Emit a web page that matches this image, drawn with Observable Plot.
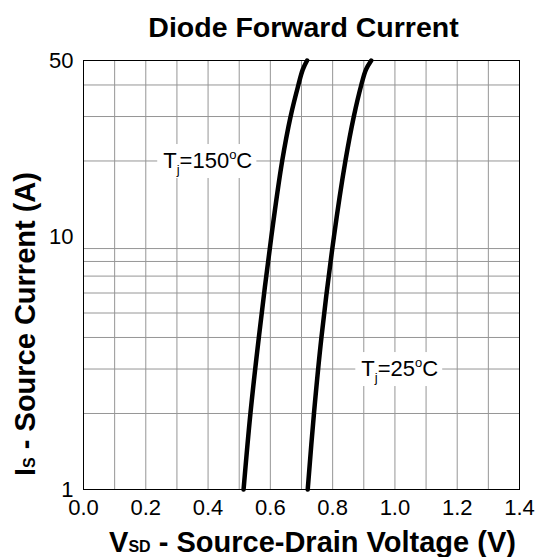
<!DOCTYPE html>
<html><head><meta charset="utf-8">
<script src="https://cdn.jsdelivr.net/npm/d3@7"></script>
<script src="https://cdn.jsdelivr.net/npm/@observablehq/plot@0.6"></script>
<style>html,body{margin:0;padding:0;background:#fff}svg{display:block}</style>
</head><body><div id="chart"></div>
<script>
// ---- data ----
const titleText = "Diode Forward Current";
const xLabelMain = "V";
const xLabelSub = "SD";
const xLabelRest = " - Source-Drain Voltage (V)";
const yLabelMain = "I";
const yLabelSub = "S";
const yLabelRest = " - Source Current (A)";
const xTicks = [0, 0.2, 0.4, 0.6, 0.8, 1.0, 1.2, 1.4];
const yTicks = [1, 10, 50];
const xGrid = [0.1, 0.2, 0.3, 0.4, 0.5, 0.6, 0.7, 0.8, 0.9, 1.0, 1.1, 1.2, 1.3];
const yGrid = [2, 3, 4, 5, 6, 7, 8, 9, 20, 30, 40];
const v150 = [0.514, 0.536, 0.563, 0.603, 0.638, 0.665, 0.690, 0.704, 0.718];
const i150 = [1, 2, 4, 10, 20, 30, 40, 46, 50];
const v25 = [0.720, 0.740, 0.764, 0.804, 0.841, 0.868, 0.892, 0.907, 0.924];
const i25 = [1, 2, 4, 10, 20, 30, 40, 46, 50];
const labelTemps = ["150", "25"];
const labelV = [0.256, 0.892];
const labelI = [20, 3];

// ---- tables ----
const curves = [
  ...v150.map((v, k) => ({series: "150", v, i: i150[k]})),
  ...v25.map((v, k) => ({series: "25", v, i: i25[k]}))
];
const labels = labelTemps.map((t, k) => ({t, v: labelV[k], i: labelI[k]}));

const FONT = "'Liberation Sans', Arial, Helvetica, sans-serif";

const plot = Plot.plot({
  width: 536,
  height: 557,
  marginLeft: 83,
  marginRight: 17,
  marginTop: 60,
  marginBottom: 68,
  style: {fontFamily: FONT, color: "black", background: "white", overflow: "visible"},
  x: {type: "linear", domain: [0, 1.4]},
  y: {type: "log", domain: [1, 50]},
  marks: [
    Plot.ruleX(xGrid, {stroke: "#969696", strokeWidth: 1}),
    Plot.ruleY(yGrid, {stroke: "#969696", strokeWidth: 1}),
    Plot.text(labels, {x: "v", y: "i", text: d => "T", textAnchor: "start", fontSize: 22, fill: "black", className: "tj-label"}),
    Plot.line(curves, {x: "v", y: "i", z: "series", stroke: "black", strokeWidth: 4.5, curve: "catmull-rom"}),
    Plot.frame({stroke: "black", strokeWidth: 1}),
    Plot.axisX(xTicks, {tickSize: 0, tickPadding: 10, tickFormat: d3.format(".1f"), fontSize: 22, label: null, fill: "black"}),
    Plot.axisY(yTicks, {tickSize: 0, tickPadding: 10, tickFormat: d => String(d), fontSize: 22, label: null, fill: "black"}),
    Plot.text([titleText], {text: d => d, frameAnchor: "top", lineAnchor: "bottom", textAnchor: "middle", dy: -24, dx: 2, fontSize: 28.5, fontWeight: "bold", className: "title"}),
    Plot.text([xLabelMain], {text: d => d, frameAnchor: "bottom", lineAnchor: "bottom", textAnchor: "middle", dy: 62, dx: 11, fontSize: 29, fontWeight: "bold", className: "xlabel"}),
    Plot.text([yLabelMain], {text: d => d, frameAnchor: "left", textAnchor: "middle", lineAnchor: "middle", rotate: -90, dx: -58, dy: 49, fontSize: 29, fontWeight: "bold", className: "ylabel"})
  ]
});
document.getElementById("chart").append(plot);

const s = d3.select(plot);
// rich axis labels
s.selectAll("g.xlabel text").each(function() {
  const t = d3.select(this);
  t.append("tspan").attr("font-size", 16).text(xLabelSub);
  t.append("tspan").text(xLabelRest);
});
s.selectAll("g.ylabel text").each(function() {
  const t = d3.select(this);
  t.append("tspan").attr("font-size", 16).text(yLabelSub);
  t.append("tspan").text(yLabelRest);
});
// Tj labels with subscript / superscript and white box
s.selectAll("g.tj-label text").each(function(_, k) {
  const t = d3.select(this);
  t.append("tspan").attr("font-size", 13).attr("dy", 6).text("j");
  t.append("tspan").attr("dy", -6).text("=" + labelTemps[k]);
  t.append("tspan").attr("font-size", 13).attr("dy", -9).text("o");
  t.append("tspan").attr("dy", 9).text("C");
  const b = this.getBBox();
  const r = document.createElementNS("http://www.w3.org/2000/svg", "rect");
  r.setAttribute("x", b.x - 6);
  r.setAttribute("y", b.y - 3);
  r.setAttribute("width", b.width + 10);
  r.setAttribute("height", b.height + 4);
  r.setAttribute("fill", "white");
  if (this.getAttribute("transform")) r.setAttribute("transform", this.getAttribute("transform"));
  this.parentNode.insertBefore(r, this);
});
</script>
</body></html>
